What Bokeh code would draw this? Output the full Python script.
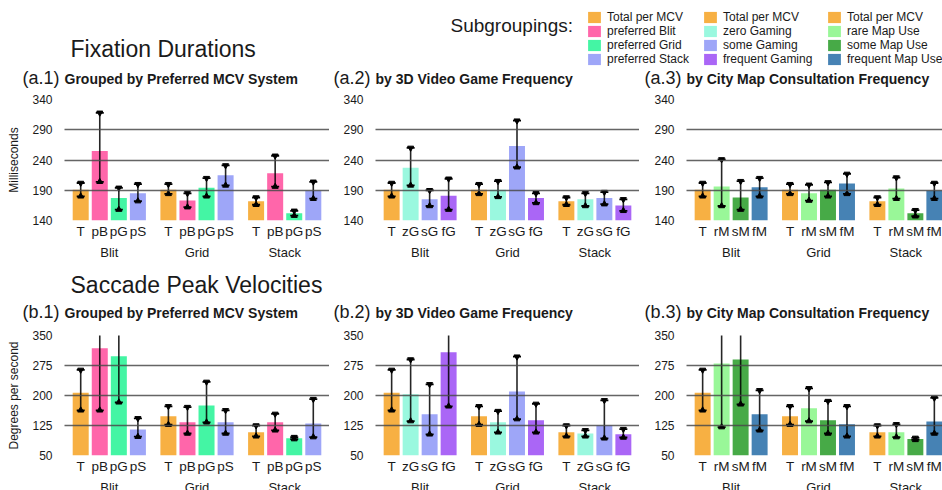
from bokeh.plotting import figure
from bokeh.models import (FactorRange, FixedTicker, Label, Legend, LegendItem,
                          Range1d, ColumnDataSource)
from bokeh.layouts import column, row
from bokeh.embed import file_html
from bokeh.resources import INLINE

FONT = "Liberation Sans"

# ---------------- data ----------------
groups = ["Blit", "Grid", "Stack"]

subs_a1 = ["T", "pB", "pG", "pS"]
subs_a2 = ["T", "zG", "sG", "fG"]
subs_a3 = ["T", "rM", "sM", "fM"]

sub_colors = {
    "T": "#F7B043", "pB": "#FF66AA", "pG": "#44F5A4", "pS": "#9EA6F8",
    "zG": "#9AF8DF", "sG": "#9EA6F8", "fG": "#AA66F6",
    "rM": "#99F798", "sM": "#47AA47", "fM": "#4682B4",
}

legend_labels_1 = ["Total per MCV", "preferred Blit", "preferred Grid", "preferred Stack"]
legend_labels_2 = ["Total per MCV", "zero Gaming", "some Gaming", "frequent Gaming"]
legend_labels_3 = ["Total per MCV", "rare Map Use", "some Map Use", "frequent Map Use"]

fix_ticks = [140, 190, 240, 290, 340]
sac_ticks = [50, 125, 200, 275, 350]

# Fixation durations (ms): order Blit(4), Grid(4), Stack(4)
fix_a1_mean = [191, 255, 177, 185, 191, 173, 194, 215, 172, 218, 152, 189]
fix_a1_lo = [180, 204, 158, 172, 184, 162, 180, 198, 166, 196, 148, 176]
fix_a1_hi = [202, 318, 194, 200, 200, 185, 210, 231, 178, 247, 156, 204]

fix_a2_mean = [191, 227, 175, 181, 191, 191, 263, 177, 172, 175, 177, 165]
fix_a2_lo = [180, 198, 164, 158, 184, 179, 228, 169, 166, 164, 167, 156]
fix_a2_hi = [202, 260, 190, 209, 200, 205, 305, 185, 178, 185, 187, 175]

fix_a3_mean = [191, 196, 178, 195, 191, 185, 191, 201, 172, 193, 152, 189]
fix_a3_lo = [180, 164, 158, 180, 184, 173, 180, 184, 166, 176, 147, 176]
fix_a3_hi = [202, 241, 205, 210, 200, 199, 203, 217, 178, 211, 157, 202]

# Saccade peak velocities (deg/s)
sac_b1_mean = [207, 318, 298, 115, 148, 133, 175, 133, 108, 133, 93, 130]
sac_b1_lo = [163, 163, 183, 97, 127, 105, 133, 105, 98, 113, 91, 96]
sac_b1_hi = [264, 470, 412, 143, 173, 171, 234, 163, 125, 154, 96, 191]

sac_b2_mean = [207, 203, 153, 308, 148, 133, 210, 138, 108, 105, 125, 103]
sac_b2_lo = [163, 136, 103, 173, 127, 108, 141, 108, 98, 98, 93, 95]
sac_b2_hi = [264, 290, 228, 440, 173, 161, 297, 179, 125, 113, 188, 116]

sac_b3_mean = [207, 280, 290, 153, 148, 168, 138, 128, 108, 108, 91, 135]
sac_b3_lo = [163, 121, 178, 113, 127, 136, 105, 98, 98, 96, 89, 105]
sac_b3_hi = [264, 440, 400, 213, 173, 218, 186, 173, 125, 128, 94, 194]

panel_tags_a = ["(a.1)", "(a.2)", "(a.3)"]
panel_tags_b = ["(b.1)", "(b.2)", "(b.3)"]
panel_titles = ["Grouped by Preferred MCV System", "by 3D Video Game Frequency",
                "by City Map Consultation Frequency"]

# ---------------- geometry ----------------
W = [329, 310, 311]          # canvas widths of the three columns
BL = [64, 46, 47]            # left borders (frame starts)
TEXT = "#1a1a1a"


def add_label(p, text, x, y, size, align="left", style="normal"):
    # y: baseline height above the canvas bottom; small lift compensates text box placement
    px = float(size.replace("px", ""))
    p.add_layout(Label(x=x, y=y + 0.36 * px, x_units="screen", y_units="screen", text=text,
                       text_align=align, text_baseline="alphabetic",
                       text_font=FONT, text_font_size=size, text_font_style=style,
                       text_color=TEXT))


def strip(height):
    s = figure(width=sum(W), height=height, x_range=Range1d(0, 1), y_range=Range1d(0, 1),
               min_border=0, x_axis_type=None, y_axis_type=None, toolbar_location=None,
               output_backend="svg", outline_line_color=None)
    s.grid.visible = False
    return s


def add_headers(s, tags, base_y):
    x0 = 0
    for w, bl, tag, title in zip(W, BL, tags, panel_titles):
        add_label(s, tag, x0 + bl - 5, base_y, "18px", align="right")
        add_label(s, title, x0 + bl, base_y, "14px", style="bold")
        x0 += w


def panel(subs, mean, lo, hi, ticks, width, border_left, height, border_top, ylabel=None):
    factors = [(g, s) for g in groups for s in subs]
    xr = FactorRange(*factors, range_padding=0.35, range_padding_units="absolute",
                     group_padding=0.6, factor_padding=0.0)
    p = figure(x_range=xr, y_range=Range1d(ticks[0], ticks[-1]), width=width, height=height,
               min_border_left=border_left, min_border_right=0, min_border_top=border_top,
               min_border_bottom=42, output_backend="svg", toolbar_location=None,
               outline_line_color=None)
    src = ColumnDataSource(dict(x=factors, top=mean, lo=lo, hi=hi,
                                color=[sub_colors[s] for g in groups for s in subs]))
    p.vbar(x="x", top="top", bottom=0, width=0.84, fill_color="color", line_color=None, source=src)
    p.segment(x0="x", y0="lo", x1="x", y1="hi", line_color="black", line_width=1.6,
              line_alpha=0.85, source=src)
    p.scatter(x="x", y="lo", marker="dash", size=8, line_width=1.8, line_color="black", source=src)
    p.scatter(x="x", y="hi", marker="dash", size=8, line_width=1.8, line_color="black", source=src)
    p.scatter(x="x", y="lo", marker="triangle", size=6, color="black", source=src)
    p.scatter(x="x", y="hi", marker="inverted_triangle", size=6, color="black", source=src)

    p.xgrid.grid_line_color = None
    p.ygrid.grid_line_color = "#4a4a4a"
    p.ygrid.grid_line_width = 1.5
    p.ygrid.grid_line_alpha = 0.85
    p.ygrid.level = "overlay"
    p.yaxis.ticker = FixedTicker(ticks=ticks)
    p.yaxis.axis_line_color = None
    p.yaxis.major_tick_line_color = None
    p.yaxis.minor_tick_line_color = None
    p.yaxis.major_tick_out = 0
    p.yaxis.major_tick_in = 0
    p.yaxis.major_label_standoff = 12
    p.yaxis.major_label_text_font = FONT
    p.yaxis.major_label_text_font_size = "12px"
    p.yaxis.major_label_text_color = TEXT
    if ylabel:
        p.yaxis.axis_label = ylabel
        p.yaxis.axis_label_text_font = FONT
        p.yaxis.axis_label_text_font_size = "12px"
        p.yaxis.axis_label_text_font_style = "normal"
        p.yaxis.axis_label_text_color = TEXT
        p.yaxis.axis_label_standoff = 8

    xa = p.xaxis[0]
    xa.axis_line_color = None
    xa.major_tick_line_color = None
    xa.minor_tick_line_color = None
    xa.major_tick_out = 0
    xa.major_tick_in = 0
    xa.major_label_standoff = 3
    xa.major_label_text_font = FONT
    xa.major_label_text_font_size = "13.5px"
    xa.major_label_text_color = TEXT
    xa.group_text_font = FONT
    xa.group_text_font_size = "13px"
    xa.group_text_font_style = "normal"
    xa.group_text_color = TEXT
    xa.separator_line_alpha = 0
    return p


ROW_H, ROW_TOP_A, ROW_TOP_B = 170, 7, 8

a1 = panel(subs_a1, fix_a1_mean, fix_a1_lo, fix_a1_hi, fix_ticks, W[0], BL[0], ROW_H, ROW_TOP_A, "Milliseconds")
a2 = panel(subs_a2, fix_a2_mean, fix_a2_lo, fix_a2_hi, fix_ticks, W[1], BL[1], ROW_H, ROW_TOP_A)
a3 = panel(subs_a3, fix_a3_mean, fix_a3_lo, fix_a3_hi, fix_ticks, W[2], BL[2], ROW_H, ROW_TOP_A)

b1 = panel(subs_a1, sac_b1_mean, sac_b1_lo, sac_b1_hi, sac_ticks, W[0], BL[0], ROW_H, ROW_TOP_B, "Degrees per second")
b2 = panel(subs_a2, sac_b2_mean, sac_b2_lo, sac_b2_hi, sac_ticks, W[1], BL[1], ROW_H, ROW_TOP_B)
b3 = panel(subs_a3, sac_b3_mean, sac_b3_lo, sac_b3_hi, sac_ticks, W[2], BL[2], ROW_H, ROW_TOP_B)

# ---------------- banner: title + legend ----------------
banner = strip(66)
add_label(banner, "Fixation Durations", 70, 9, "23px")
add_label(banner, "Subgroupings:", 450, 34, "19px")

legend_sets = [
    (legend_labels_1, subs_a1, 586),
    (legend_labels_2, subs_a2, 702),
    (legend_labels_3, subs_a3, 826),
]
for labels, subs, lx in legend_sets:
    items = []
    for lab, s in zip(labels, subs):
        r = banner.vbar(x=[0], top=[0], bottom=[0], width=0, fill_color=sub_colors[s], line_color=None)
        items.append(LegendItem(label=lab, renderers=[r]))
    leg = Legend(items=items, location=(lx, 0), orientation="vertical",
                 glyph_width=16, glyph_height=14, label_height=12, label_standoff=5,
                 spacing=0, padding=0, margin=0, border_line_color=None,
                 background_fill_alpha=0, label_text_font=FONT,
                 label_text_font_size="12px", label_text_color=TEXT)
    banner.add_layout(leg)

strip_a = strip(26)
add_headers(strip_a, panel_tags_a, 8)

strip_b = strip(65)
add_label(strip_b, "Saccade Peak Velocities", 70, 34, "23px")
add_headers(strip_b, panel_tags_b, 9)

layout = column(banner, strip_a, row(a1, a2, a3), strip_b, row(b1, b2, b3))

open("out.html", "w").write(file_html(layout, INLINE))
